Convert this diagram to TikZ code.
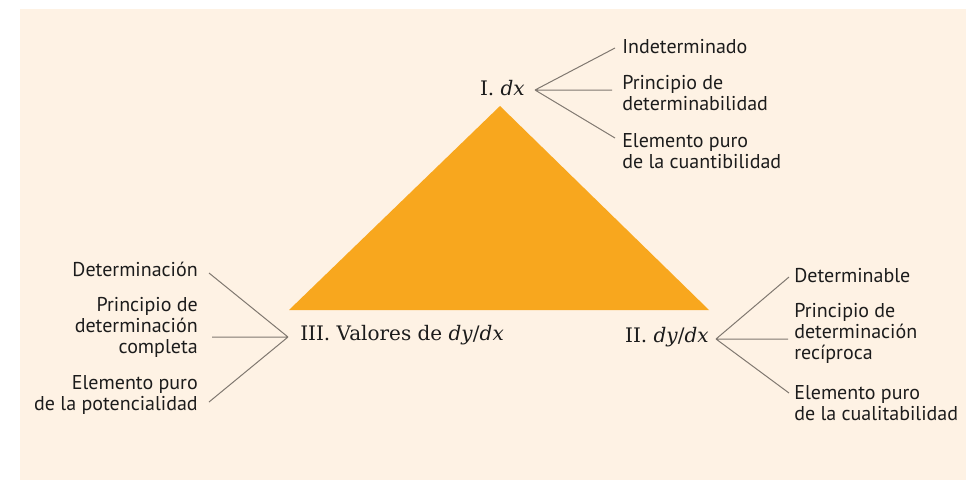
\documentclass[tikz,border=0pt]{standalone}
\usepackage{fontspec}
\setmainfont{DejaVu Serif}
\newfontfamily\leaffont{PT Sans}
\usetikzlibrary{calc}
\definecolor{cream}{RGB}{254,242,228}
\definecolor{amber}{RGB}{248,167,30}
\definecolor{linkgray}{RGB}{128,120,112}
\definecolor{ink}{RGB}{28,28,28}
\tikzset{
	vertex/.style={inner sep=0pt,text=ink,font=\fontsize{15}{18}\selectfont},
	leaf/.style={inner sep=0pt,text=ink,font=\leaffont\fontsize{15}{15.75}\selectfont},
	link/.style={draw=linkgray,line width=.75pt},
}
\begin{document}
\begin{tikzpicture}[x=.75pt,y=-.75pt]
			\useasboundingbox(0,0)rectangle(973,480);
			\fill[cream](20,9)rectangle(966,480);
			\coordinate(A)at(500,106);
			\coordinate(B)at(709,310);
			\coordinate(C)at(289,310);
			\fill[amber](A)--(B)--(C)--cycle;
			% vertex labels
			\node[vertex,anchor=east](dx)at(525,88){I. \textit{dx}};
			\node[vertex,anchor=east](dydx)at(709,337){II. \textit{dy}/\textit{dx}};
			\node[vertex,anchor=west](val)at(300,335){III. Valores de \textit{dy}/\textit{dx}};
			\coordinate(jI)at($(dx.east)+(10,2)$);
			\coordinate(jII)at($(dydx.east)+(7,2)$);
			\coordinate(jIII)at($(val.west)+(-12,2)$);
			% I
			\node[leaf,anchor=west](ind)at(622,47){Indeterminado};
			\node[leaf,anchor=west,align=left](pri)at(622,93){Principio de\\determinabilidad};
			\node[leaf,anchor=west,align=left](cua)at(622,151){Elemento puro\\de la cuantibilidad};
			\draw[link](jI)--($(ind.west)+(-7,1)$)(jI)--($(pri.west)+(-10,-3)$)(jI)--($(cua.west)+(-7,-13)$);
			% II
			\node[leaf,anchor=west](dbl)at(794,276){Determinable};
			\node[leaf,anchor=west,align=left](rec)at(794,333){Principio de\\determinación\\recíproca};
			\node[leaf,anchor=west,align=left](cul)at(794,403){Elemento puro\\de la cualitabilidad};
			\draw[link](jII)--($(dbl.west)+(-5,1)$)(jII)--($(rec.west)+(-6,6)$)(jII)--($(cul.west)+(-5,-10)$);
			% III
			\node[leaf,anchor=east](dtn)at(198,269){Determinación};
			\node[leaf,anchor=east,align=right](com)at(198,327){Principio de\\determinación\\completa};
			\node[leaf,anchor=east,align=right](pot)at(198,395){Elemento puro\\de la potencialidad};
			\draw[link](jIII)--($(dtn.east)+(11,4)$)(jIII)--($(com.east)+(14,10)$)(jIII)--($(pot.east)+(11,7)$);
		\end{tikzpicture}
\end{document}
